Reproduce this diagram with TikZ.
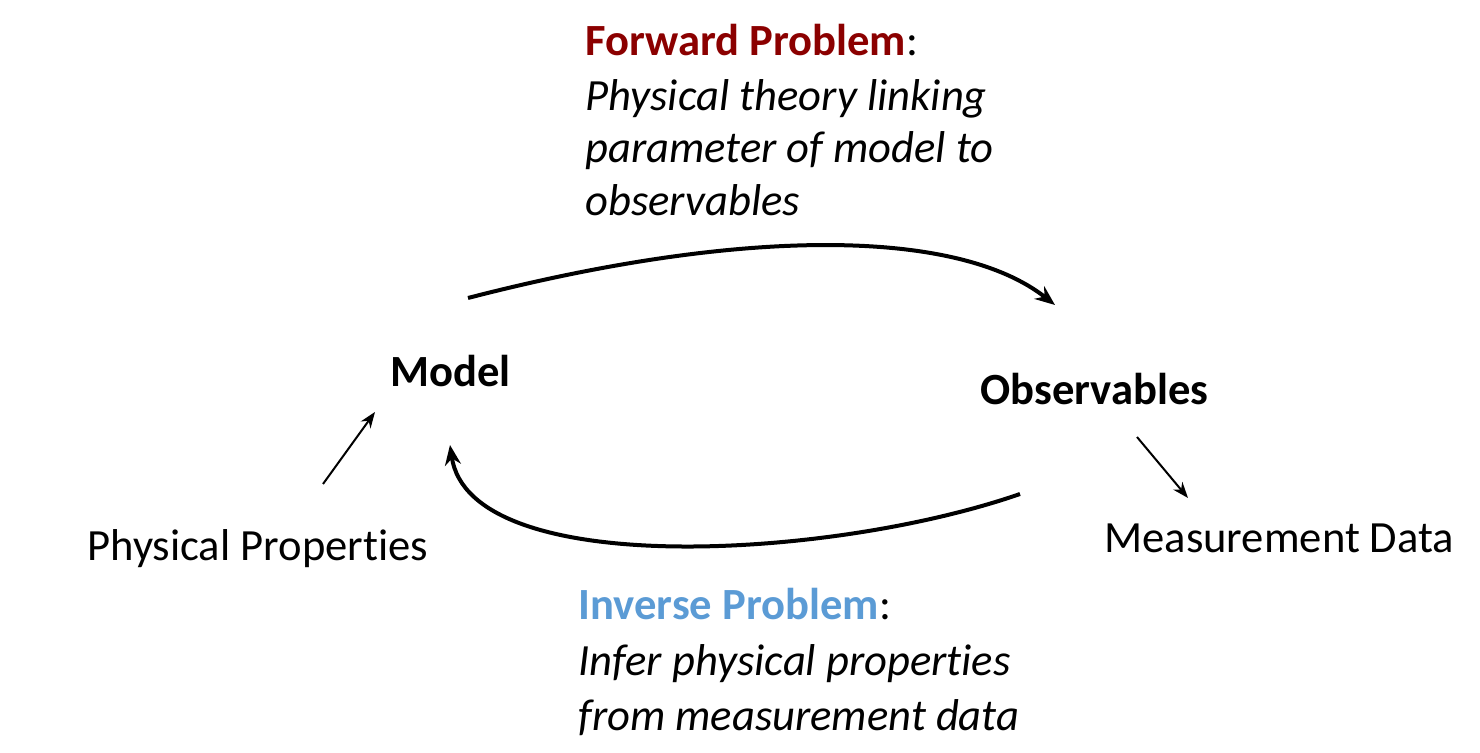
\documentclass[tikz,border=0pt]{standalone}
\usepackage{fontspec}
\setmainfont[Ligatures={NoCommon}]{Carlito}
\usetikzlibrary{arrows.meta}
\definecolor{fwdred}{HTML}{8B0000}
\definecolor{invblue}{HTML}{5B9BD5}
\begin{document}
\begin{tikzpicture}[x=0.5pt,y=-0.5pt,
  lbl/.style={inner sep=0pt,anchor=base west,font=\fontsize{22.3}{26}\selectfont},
  big/.style={inner sep=0pt,anchor=base west,font=\fontsize{22.3}{26}\selectfont\bfseries},
  desc/.style={inner sep=0pt,anchor=base west,font=\fontsize{22.3}{26}\selectfont\itshape},
  bigarrow/.style={line width=2pt,-{Stealth[length=10pt,width=8pt]}},
  smallarrow/.style={line width=1pt,-{Stealth[length=8pt,width=6pt]}}]
\useasboundingbox (0,0) rectangle (1480,753);
\node[big] (model) at (390,387) {Model};
\node[big] (obs) at (980,405) {Observables};
\node[lbl] (pp) at (87,561) {Physical Properties};
\node[lbl] (md) at (1104,553) {Measurement Data};
\node[big] (fwd) at (585,56) {\textcolor{fwdred}{Forward Problem}\textmd{:}};
\node[desc] (f1) at (585,111) {Physical theory linking};
\node[desc] (f2) at (585,163) {parameter of model to};
\node[desc] (f3) at (585,216) {observables};
\node[big] (inv) at (578,620) {\textcolor{invblue}{Inverse Problem}\textmd{:}};
\node[desc] (i1) at (578,676) {Infer physical properties};
\node[desc] (i2) at (578,731) {from measurement data};
\coordinate (fs) at (468,298);
\coordinate (fe) at (1055,305);
\coordinate (is) at (1020,494);
\coordinate (ie) at (450,445);
\coordinate (ps) at (323,484);
\coordinate (pe) at (375,412);
\coordinate (ms) at (1137,437);
\coordinate (me) at (1188,498);
\draw[bigarrow] (fs) .. controls (750,225) and (960,230) .. (fe);
\draw[bigarrow] (is) .. controls (830,560) and (470,580) .. (ie);
\draw[smallarrow] (ps) -- (pe);
\draw[smallarrow] (ms) -- (me);
\end{tikzpicture}
\end{document}
